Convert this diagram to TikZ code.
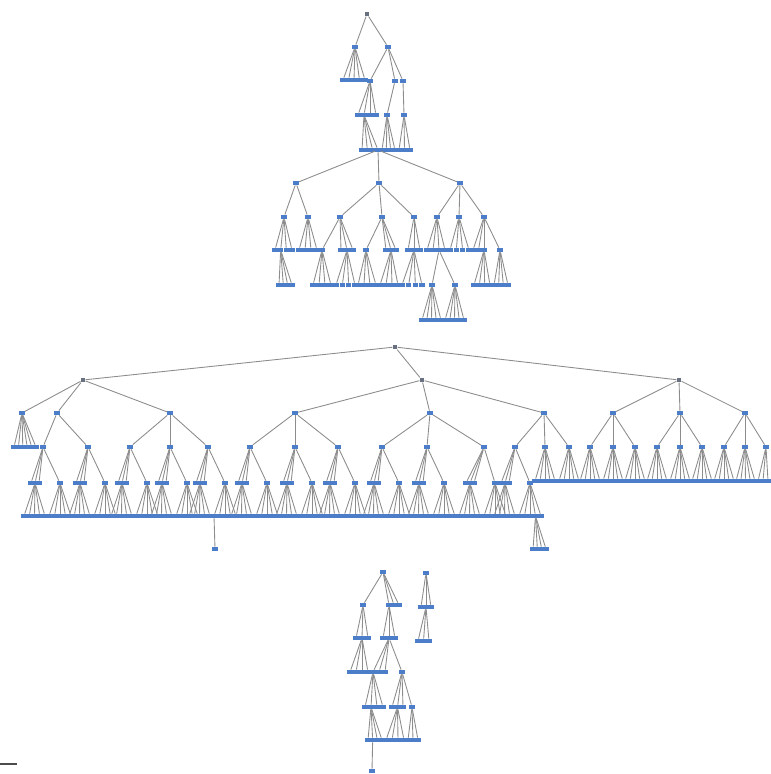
\documentclass[tikz,border=0pt]{standalone}
\definecolor{leafc}{RGB}{75,125,200}
\definecolor{rootc}{RGB}{105,112,128}
\definecolor{edgec}{RGB}{140,140,140}
\tikzset{
  leafn/.style={rectangle,fill=leafc,inner sep=0pt,minimum width=1.6mm,minimum height=1.3mm},
  rootn/.style={rectangle,fill=rootc,inner sep=0pt,minimum size=1.4mm},
  edgel/.style={draw=edgec,line width=0.75pt}
}
\newcommand\tnd[3]{\node[leafn] (#1) at ({#2},{#3}) {};}
\newcommand\trt[3]{\node[rootn] (#1) at ({#2},{#3}) {};}
\newcommand\te[2]{\draw[edgel] (#1) -- (#2);}
\newcommand\tfan[6]{%
  \foreach \k in {1,...,#6}{%
    \pgfmathsetmacro\fx{(#4)+(\k-1)*((#5)-(#4))/max((#6)-1,1)}%
    \node[leafn] (#2-\k) at (\fx,#3) {};
    \draw[edgel] (#1) -- (#2-\k);
  }%
}
\newcommand\tpair[3]{%
  \tfan{#1}{#2c}{483}{#3-12}{#3-4}{3}%
  \tnd{#2s}{#3+17}{483}\te{#1}{#2s}%
  \tfan{#2c-2}{#2cf}{516}{#3-19}{#3+2}{5}%
  \tfan{#2s}{#2sf}{516}{#3+6}{#3+28}{5}%
}
\begin{document}
\begin{tikzpicture}[x=0.3mm,y=-0.3mm]
\useasboundingbox (0,0) rectangle (770,774);
% ---------------- tree 1 ----------------
\trt{r1}{367}{14}
\tnd{t1a}{355}{47}\tnd{t1b}{388}{47}
\te{r1}{t1a}\te{r1}{t1b}
\tfan{t1a}{t1al}{80}{343}{365}{5}
\tnd{t1c}{370}{81}\tnd{t1d}{395}{81}\tnd{t1dd}{403}{81}
\te{t1b}{t1c}\te{t1b}{t1d}\te{t1b}{t1dd}
\tfan{t1c}{t1cl}{115}{358}{376}{4}
\tnd{t1f}{387}{115}\te{t1d}{t1f}
\tnd{t1g}{404}{115}\te{t1dd}{t1g}
\tfan{t1cl-2}{t1h}{150}{362}{378}{4}
\tfan{t1f}{t1i}{150}{382}{395}{4}
\tfan{t1g}{t1j}{150}{399}{410}{3}
% ---------------- tree 2 ----------------
\tnd{t2a}{296}{183}\tnd{t2b}{379}{183}\tnd{t2c}{460}{183}
\te{t1h-4}{t2a}\te{t1h-4}{t2b}\te{t1h-4}{t2c}
\tnd{t2a1}{284}{217}\tnd{t2a2}{308}{217}
\te{t2a}{t2a1}\te{t2a}{t2a2}
\tfan{t2a1}{t2a1l}{250}{275}{292}{4}
\tfan{t2a2}{t2a2l}{250}{299}{317}{4}
\tfan{t2a1l-2}{t2a1m}{285}{279}{292}{4}
\tnd{t2b1}{340}{217}\tnd{t2b2}{382}{217}\tnd{t2b3}{414}{217}
\te{t2b}{t2b1}\te{t2b}{t2b2}\te{t2b}{t2b3}
\tnd{t2b1a}{322}{250}\te{t2b1}{t2b1a}
\tfan{t2b1}{t2b1l}{250}{341}{353}{3}
\tnd{t2b2a}{366}{250}\te{t2b2}{t2b2a}
\tfan{t2b2}{t2b2l}{250}{386}{396}{3}
\tfan{t2b3}{t2b3l}{250}{408}{420}{3}
\tfan{t2b1a}{pa}{285}{313}{331}{4}
\tfan{t2b1l-2}{pb}{285}{336}{355}{4}
\tfan{t2b2a}{pc}{285}{358}{376}{4}
\tfan{t2b2l-2}{pd}{285}{380}{398}{4}
\tfan{t2b3l-2}{pe}{285}{402}{422}{4}
\tnd{t2c1}{437}{217}\tnd{t2c2}{459}{217}\tnd{t2c3}{484}{217}
\te{t2c}{t2c1}\te{t2c}{t2c2}\te{t2c}{t2c3}
\tfan{t2c1}{t2c1l}{250}{427}{445}{4}
\tfan{t2c2}{t2c2l}{250}{450}{469}{4}
\tfan{t2c3}{t2c3l}{250}{473}{484}{3}
\tnd{t2c3b}{500}{250}\te{t2c3}{t2c3b}
\tnd{t2d1}{432}{285}\tnd{t2d2}{455}{285}
\te{t2c1l-3}{t2d1}\te{t2c1l-3}{t2d2}
\tfan{t2d1}{pf}{320}{422}{441}{5}
\tfan{t2d2}{pg}{320}{445}{464}{5}
\tfan{t2c3l-3}{ph}{285}{474}{490}{4}
\tfan{t2c3b}{pi}{285}{494}{508}{4}
% ---------------- tree 3 ----------------
\trt{r3}{395}{347}
\trt{q1}{83}{380}\trt{q2}{422}{380}\trt{q3}{679}{380}
\te{r3}{q1}\te{r3}{q2}\te{r3}{q3}
\tnd{q1a}{22}{413}\tnd{q1b}{57}{413}\tnd{q1c}{170}{413}
\te{q1}{q1a}\te{q1}{q1b}\te{q1}{q1c}
\tfan{q1a}{q1al}{447}{14}{36}{6}
\tnd{q1b1}{43}{447}\tnd{q1b2}{88}{447}
\te{q1b}{q1b1}\te{q1b}{q1b2}
\tnd{q1c1}{130}{447}\tnd{q1c2}{170}{447}\tnd{q1c3}{208}{447}
\te{q1c}{q1c1}\te{q1c}{q1c2}\te{q1c}{q1c3}
\tpair{q1b1}{sa}{43}
\tpair{q1b2}{sb}{88}
\tpair{q1c1}{sc}{130}
\tpair{q1c2}{sd}{170}
\tpair{q1c3}{se}{208}
\tnd{sx}{215}{549}\te{sesf-1}{sx}
\tnd{q2a}{295}{413}\tnd{q2b}{430}{413}\tnd{q2c}{544}{413}
\te{q2}{q2a}\te{q2}{q2b}\te{q2}{q2c}
\tnd{q2a1}{250}{447}\tnd{q2a2}{295}{447}\tnd{q2a3}{338}{447}
\te{q2a}{q2a1}\te{q2a}{q2a2}\te{q2a}{q2a3}
\tnd{q2b1}{382}{447}\tnd{q2b2}{427}{447}\tnd{q2b3}{484}{447}
\te{q2b}{q2b1}\te{q2b}{q2b2}\te{q2b}{q2b3}
\tnd{q2c1}{515}{447}\tnd{q2c2}{545}{447}\tnd{q2c3}{569}{447}
\te{q2c}{q2c1}\te{q2c}{q2c2}\te{q2c}{q2c3}
\tpair{q2a1}{sf}{250}
\tpair{q2a2}{sg}{295}
\tpair{q2a3}{sh}{338}
\tpair{q2b1}{si}{382}
\tpair{q2b2}{sj}{427}
\tpair{q2b3}{sk}{478}
\tpair{q2c1}{sl}{513}
\tfan{slsf-4}{sy}{549}{533}{546}{4}
\tnd{q3a}{613}{413}\tnd{q3b}{680}{413}\tnd{q3c}{745}{413}
\te{q3}{q3a}\te{q3}{q3b}\te{q3}{q3c}
\tnd{q3a1}{590}{447}\tnd{q3a2}{613}{447}\tnd{q3a3}{635}{447}
\te{q3a}{q3a1}\te{q3a}{q3a2}\te{q3a}{q3a3}
\tnd{q3b1}{657}{447}\tnd{q3b2}{680}{447}\tnd{q3b3}{702}{447}
\te{q3b}{q3b1}\te{q3b}{q3b2}\te{q3b}{q3b3}
\tnd{q3c1}{724}{447}\tnd{q3c2}{745}{447}\tnd{q3c3}{766}{447}
\te{q3c}{q3c1}\te{q3c}{q3c2}\te{q3c}{q3c3}
\tfan{q2c2}{ra}{481}{535}{555}{5}
\tfan{q2c3}{rb}{481}{559}{579}{5}
\tfan{q3a1}{rc}{481}{580}{600}{5}
\tfan{q3a2}{rd}{481}{603}{623}{5}
\tfan{q3a3}{re}{481}{625}{645}{5}
\tfan{q3b1}{rf}{481}{647}{667}{5}
\tfan{q3b2}{rg}{481}{670}{690}{5}
\tfan{q3b3}{rh}{481}{692}{712}{5}
\tfan{q3c1}{ri}{481}{714}{734}{5}
\tfan{q3c2}{rj}{481}{736}{755}{5}
\tfan{q3c3}{rk}{481}{758}{768}{3}
% ---------------- tree 4 ----------------
\tnd{r4}{383}{572}\tnd{r4a}{363}{605}\te{r4}{r4a}
\tfan{r4}{r4b}{605}{389}{399}{3}
\tfan{r4a}{r4c}{638}{356}{368}{3}
\tfan{r4b-1}{r4d}{638}{383}{395}{3}
\tfan{r4c-2}{r4e}{672}{350}{368}{4}
\tfan{r4d-2}{r4f}{672}{373}{385}{3}
\tnd{r4g}{402}{672}\te{r4d-2}{r4g}
\tfan{r4f-1}{r4h}{707}{365}{383}{4}
\tfan{r4g}{r4i}{707}{392}{403}{3}
\tnd{r4j}{412}{707}\te{r4g}{r4j}
\tfan{r4h-2}{r4k}{740}{368}{382}{4}
\tfan{r4i-2}{r4l}{740}{386}{404}{4}
\tfan{r4j}{r4m}{740}{408}{418}{3}
\tnd{r4n}{372}{771}\te{r4k-2}{r4n}
% small tree
\tnd{u1}{426}{573}
\tfan{u1}{u2}{607}{421}{431}{3}
\tfan{u2-2}{u3}{641}{418}{429}{3}
% bottom-left mark
\coordinate (bl1) at (0,764);
\coordinate (bl2) at (17,764);
\draw[line width=0.5mm,draw=black!70] (bl1) -- (bl2);
\end{tikzpicture}
\end{document}
